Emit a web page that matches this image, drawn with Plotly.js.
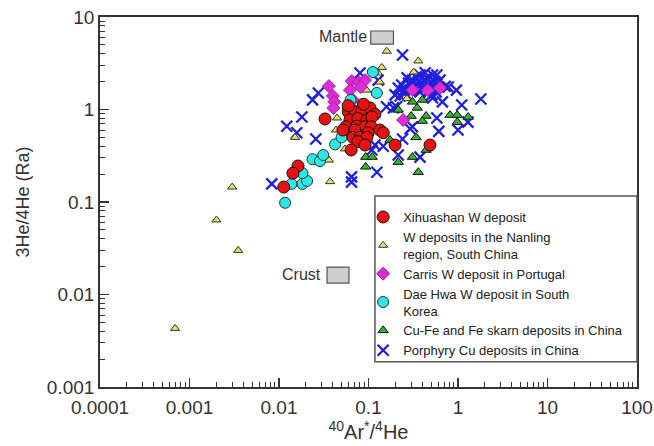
<!DOCTYPE html>
<html>
<head>
<meta charset="utf-8">
<script src="https://cdn.plot.ly/plotly-3.0.1.min.js"></script>
<style>html,body{margin:0;padding:0;background:#fff;}#chart{width:654px;height:446px;}</style>
</head>
<body>
<div id="chart"></div>
<script>
// ---- data ----
const seriesNames = ["Xihuashan W deposit", "W deposits in the Nanling<br>region, South China", "Carris W deposit in Portugal", "Dae Hwa W deposit in South<br>Korea", "Cu-Fe and Fe skarn deposits in China", "Porphyry Cu deposits in China"];

const xihuashanX = [0.0327,0.0593,0.0706,0.084,0.104,0.118,0.0621,0.076,0.096,0.109,0.056,0.074,0.0914,0.107,0.134,0.146,0.0518,0.0706,0.099,0.067,0.0803,0.096,0.076,0.0914,0.064,0.198,0.487,0.0163,0.0143,0.0113,0.0593,0.088];
const xihuashanY = [0.79,0.95,0.95,0.99,1.04,0.89,0.77,0.80,0.77,0.83,0.65,0.66,0.65,0.65,0.60,0.56,0.60,0.60,0.56,0.50,0.50,0.50,0.45,0.413,0.365,0.413,0.413,0.245,0.205,0.145,1.10,1.14];

const nanlingX = [0.160,0.36,0.141,0.128,0.134,0.32,0.095,0.268,0.0445,0.0435,0.0151,0.0546,0.0361,0.0372,0.0030,0.0020,0.0035,0.00069,0.121];
const nanlingY = [4.27,3.35,2.85,2.48,1.98,2.54,1.62,1.31,0.81,0.60,0.50,0.375,0.284,0.166,0.145,0.064,0.030,0.0043,1.51];

const carrisX = [0.0361,0.040,0.0414,0.0405,0.065,0.078,0.0914,0.0621,0.067,0.082,0.31,0.46,0.63,0.244];
const carrisY = [1.79,1.40,1.21,1.04,2.03,1.98,2.08,1.62,1.27,1.75,1.62,1.62,1.71,0.77];

const daeHwaX = [0.0117,0.0138,0.0183,0.0206,0.0183,0.0237,0.0287,0.0312,0.0423,0.050,0.0546,0.060,0.112,0.124,0.063];
const daeHwaY = [0.098,0.157,0.157,0.169,0.205,0.29,0.277,0.322,0.42,0.50,0.63,0.60,2.54,1.51,1.27];

const skarnX = [0.40,0.35,0.31,0.44,0.40,0.30,0.815,0.98,1.30,0.98,0.215,0.174,0.215,0.31,0.36,0.44,0.34,0.093,0.093,0.11];
const skarnY = [1.27,1.04,1.21,0.85,0.75,0.85,0.87,0.87,0.83,0.73,0.99,0.468,0.27,0.306,0.21,0.365,0.50,0.306,0.24,0.306];

const porphyryX = [0.24,0.0803,0.128,0.0237,0.0275,0.018,0.0122,0.0158,0.0258,0.0083,0.0646,0.0646,0.124,0.215,0.159,0.206,0.146,0.118,0.109,0.24,0.291,0.31,0.376,0.61,1.0,1.29,0.67,1.1,1.8,0.96,0.78,0.58,0.52,0.19,
  0.376,0.52,0.27,0.215,0.198,0.256,0.331,0.40,0.50,0.45,0.31,0.291,0.376,0.487,0.63,0.58,0.235,0.36,0.43,0.28,0.225,0.57,0.72,0.43,0.51,
  0.30,0.39,0.46,0.34,0.55,0.25,0.42,0.49];
const porphyryY = [3.88,2.48,2.08,1.27,1.51,0.83,0.66,0.56,0.48,0.157,0.187,0.164,0.210,0.322,1.07,1.07,0.40,0.413,0.365,0.48,0.62,0.65,0.306,0.58,0.60,0.73,1.21,1.12,1.30,1.62,1.75,0.81,1.33,1.04,
  2.36,2.36,2.2,1.71,1.44,1.51,1.75,1.92,1.92,2.2,2.08,1.62,1.55,1.62,2.08,2.36,1.84,2.0,1.70,1.93,1.40,1.55,1.78,2.5,1.44,
  1.85,1.70,1.85,2.25,2.0,1.62,2.1,1.75];

const xTickVals = [0.0001,0.001,0.01,0.1,1,10,100];
const xTickText = ["0.0001","0.001","0.01","0.1","1","10","100"];
const yTickVals = [0.001,0.01,0.1,1,10];
const yTickText = ["0.001","0.01","0.1","1","10"];

// reference boxes (x range, y range in data units)
const mantleBox = {x: [0.106, 0.19], y: [5.1, 7.06]};
const crustBox = {x: [0.0344, 0.0605], y: [0.0133, 0.0198]};

// ---- chart ----
const FONT = "Liberation Sans, Arial, sans-serif";
const traces = [
  {name: seriesNames[5], x: porphyryX, y: porphyryY, type: "scatter", mode: "markers", legendrank: 6,
   marker: {symbol: "x-thin-open", size: 11, color: "#1f1fe0", line: {color: "#1f1fe0", width: 2.3}}},
  {name: seriesNames[4], x: skarnX, y: skarnY, type: "scatter", mode: "markers", legendrank: 5,
   marker: {symbol: "triangle-up", size: 9, color: "#2fb52f", line: {color: "#111", width: 1}}},
  {name: seriesNames[1], x: nanlingX, y: nanlingY, type: "scatter", mode: "markers", legendrank: 2,
   marker: {symbol: "triangle-up", size: 8, color: "#e2e26a", line: {color: "#333", width: 1}}},
  {name: seriesNames[2], x: carrisX, y: carrisY, type: "scatter", mode: "markers", legendrank: 3,
   marker: {symbol: "diamond", size: 10, color: "#e02ad6", line: {color: "#a020a0", width: 1}}},
  {name: seriesNames[3], x: daeHwaX, y: daeHwaY, type: "scatter", mode: "markers", legendrank: 4,
   marker: {symbol: "circle", size: 11, color: "#2ee8e8", line: {color: "#1a3a3a", width: 1}}},
  {name: seriesNames[0], x: xihuashanX, y: xihuashanY, type: "scatter", mode: "markers", legendrank: 1,
   marker: {symbol: "circle", size: 12, color: "#e81010", line: {color: "#111", width: 1}}}
];

const axisCommon = {
  type: "log", showline: true, mirror: true, linecolor: "#333", linewidth: 1.8,
  ticks: "inside", ticklen: 9, tickwidth: 1.3, tickcolor: "#333",
  showgrid: false, zeroline: false,
  tickfont: {family: FONT, size: 19, color: "#333"},
  minor: {ticks: "inside", ticklen: 5, tickwidth: 1, tickcolor: "#333", dtick: "D1", showgrid: false}
};

const layout = {
  width: 654, height: 446,
  margin: {l: 100, r: 17, t: 17, b: 59},
  paper_bgcolor: "#fff", plot_bgcolor: "#fff",
  font: {family: FONT, color: "#333"},
  xaxis: Object.assign({}, axisCommon, {
    range: [-4, 2], tickvals: xTickVals, ticktext: xTickText, ticklabelstandoff: 2,
    title: {text: "<sup>40</sup>Ar<sup>*</sup>/<sup>4</sup>He", font: {family: FONT, size: 20, color: "#333"}, standoff: 4}
  }),
  yaxis: Object.assign({}, axisCommon, {
    range: [-3, 1], tickvals: yTickVals, ticktext: yTickText,
    title: {text: "3He/4He (Ra)", font: {family: FONT, size: 18, color: "#333"}, standoff: 12}
  }),
  showlegend: true,
  legend: {
    x: 0.49, y: 0.5, xanchor: "left", yanchor: "top",
    bgcolor: "rgba(0,0,0,0)", borderwidth: 0,
    font: {family: FONT, size: 13, color: "#222"}
  },
  shapes: [
    {type: "rect", xref: "x", yref: "y", x0: mantleBox.x[0], x1: mantleBox.x[1], y0: mantleBox.y[0], y1: mantleBox.y[1],
     fillcolor: "#cfcfcf", line: {color: "#555", width: 1.2}},
    {type: "rect", xref: "x", yref: "y", x0: crustBox.x[0], x1: crustBox.x[1], y0: crustBox.y[0], y1: crustBox.y[1],
     fillcolor: "#cfcfcf", line: {color: "#555", width: 1.2}},
    {type: "rect", xref: "paper", yref: "paper", x0: 0.512, x1: 1.0, y0: 0.068, y1: 0.516,
     fillcolor: "rgba(255,255,255,0.9)", line: {color: "#555", width: 1.5}, layer: "above"}
  ],
  annotations: [
    {text: "Mantle", xref: "x", yref: "y", x: -1.0, y: 0.784, xanchor: "right", yanchor: "middle", showarrow: false,
     font: {family: FONT, size: 16, color: "#333"}},
    {text: "Crust", xref: "x", yref: "y", x: -1.508, y: -1.789, xanchor: "right", yanchor: "middle", showarrow: false,
     font: {family: FONT, size: 16, color: "#333"}}
  ]
};

Plotly.newPlot("chart", traces, layout, {displayModeBar: false, staticPlot: true});
</script>
</body>
</html>
